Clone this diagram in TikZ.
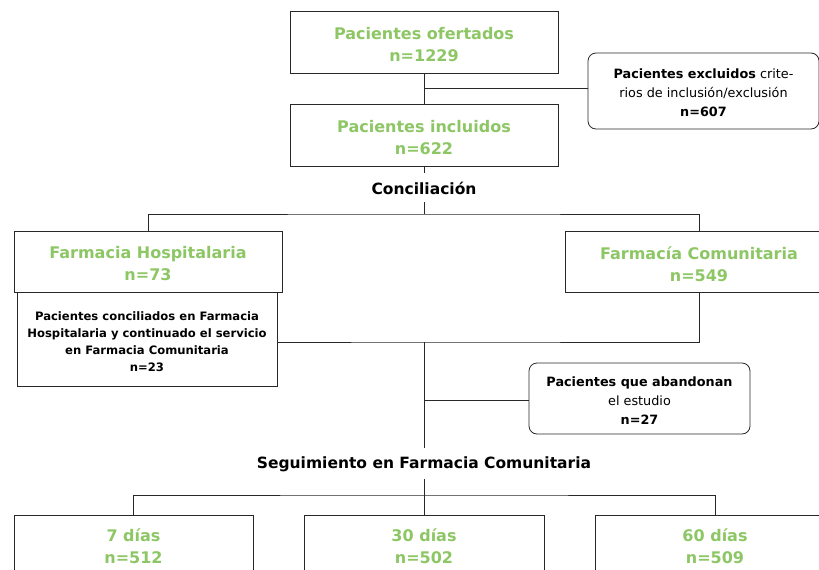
\documentclass[tikz,border=0pt]{standalone}
\usepackage{fontspec}
\setmainfont{DejaVu Sans}
\definecolor{grn}{RGB}{141,198,100}
\definecolor{ln}{RGB}{40,40,40}
\tikzset{
  bx/.style={draw=ln, line width=0.8pt, minimum height=62pt, inner sep=0pt},
  rbx/.style={bx, rounded corners=8pt},
  gt/.style={align=center, inner sep=0pt, text=grn, font=\fontsize{16}{22}\selectfont\bfseries},
  st/.style={align=center, inner sep=0pt, text=black, font=\fontsize{12.8}{19}\selectfont},
  lbl/.style={inner sep=0pt, font=\fontsize{15.5}{18}\selectfont\bfseries},
  cn/.style={draw=ln, line width=0.8pt}
}
\begin{document}
\begin{tikzpicture}[x=1pt,y=-1pt]
\clip (0,0) rectangle (819,570);
% boxes
\node[bx, minimum width=268pt] (ofer) at (424,42) {};
\node[rbx, minimum width=231pt, minimum height=76pt] (excl) at (703.5,91) {};
\node[bx, minimum width=268pt] (incl) at (424,135) {};
\node[bx, minimum width=268pt, minimum height=61pt] (fh) at (148,261.5) {};
\node[bx, minimum width=260pt, minimum height=94pt] (sub) at (147,339) {};
\node[bx, minimum width=268pt, minimum height=61pt] (fc) at (699,261.5) {};
\node[rbx, minimum width=221pt, minimum height=71pt] (aband) at (639.5,398.5) {};
\node[bx, minimum width=239pt] (d7) at (133.5,546) {};
\node[bx, minimum width=240pt] (d30) at (424,546) {};
\node[bx, minimum width=240pt] (d60) at (715,546) {};
% texts
\node[gt] (oferT) at ([yshift=-2.5pt]ofer.center) {Pacientes ofertados\\n=1229};
\node[st] (exclT) at ([yshift=-2pt]excl.center)
  {\textbf{Pacientes excluidos} crite-\\rios de inclusión/exclusión\\\textbf{n=607}};
\node[gt] (inclT) at ([yshift=-2.5pt]incl.center) {Pacientes incluidos\\n=622};
\node[lbl] (conc) at (424,188) {Conciliación};
\node[gt] (fhT) at ([yshift=-2.5pt]fh.center) {Farmacia Hospitalaria\\n=73};
\node[st, font=\fontsize{11.6}{17}\selectfont\bfseries] (subT) at ([yshift=-3pt]sub.center)
  {Pacientes conciliados en Farmacia\\Hospitalaria y continuado el servicio\\en Farmacia Comunitaria\\n=23};
\node[gt] (fcT) at ([yshift=-2.5pt]fc.center) {Farmacía Comunitaria\\n=549};
\node[st] (abandT) at ([yshift=-2.5pt]aband.center)
  {\textbf{Pacientes que abandonan}\\el estudio\\\textbf{n=27}};
\node[lbl] (seg) at (424,464) {Seguimiento en Farmacia Comunitaria};
\node[gt] (d7T) at (d7.center) {7 días\\n=512};
\node[gt] (d30T) at (d30.center) {30 días\\n=502};
\node[gt] (d60T) at (d60.center) {60 días\\n=509};
% connectors
\coordinate (j1) at (424,88);
\coordinate (b1) at (424,214);
\coordinate (j2) at (424,342);
\coordinate (j3) at (424,400);
\coordinate (b2) at (424,495);
\draw[cn] (ofer.south) -- (incl.north);
\draw[cn] (j1) -- (excl.west |- j1);
\draw[cn] (incl.south) -- ++(0,7);
\draw[cn] (b1) -- ++(0,-12);
\draw[cn] (fh.north) |- (b1) -| (fc.north);
\draw[cn] (fc.south) |- (j2) -- (sub.east |- j2);
\draw[cn] (j2) -- (424,448);
\draw[cn] (j3) -- (aband.west |- j3);
\draw[cn] (424,479) -- (d30.north);
\draw[cn] (d7.north) |- (b2) -| (d60.north);
\end{tikzpicture}
\end{document}
